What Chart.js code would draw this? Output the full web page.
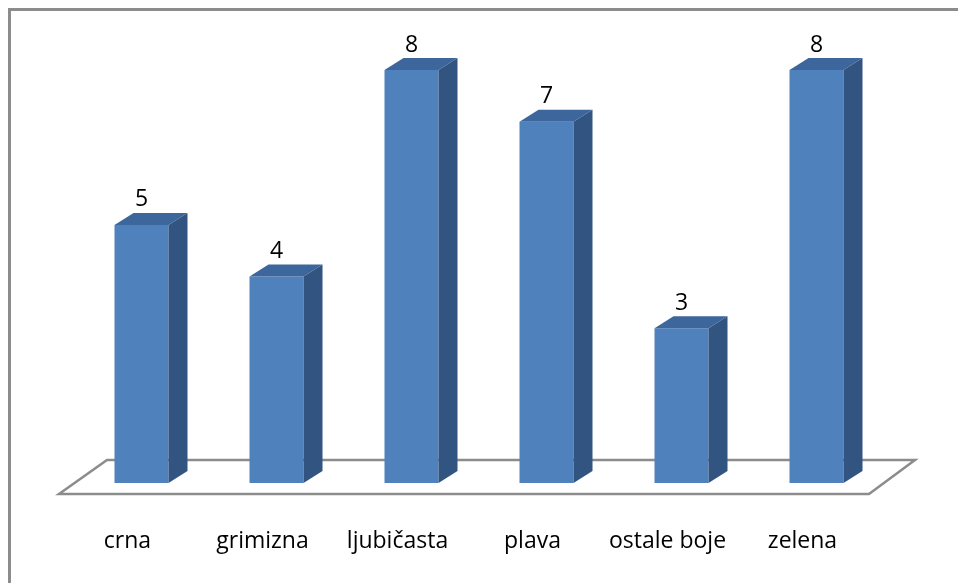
<!DOCTYPE html>
<html>
<head>
<meta charset="utf-8">
<script src="https://cdn.jsdelivr.net/npm/chart.js@4"></script>
<style>
  html, body { margin: 0; padding: 0; background: #fff; overflow: hidden; }
  #wrap { position: relative; width: 958px; height: 583px; }
  #frame {
    position: absolute; left: 8px; top: 8px; width: 980px; height: 600px;
    border-left: 3px solid #8c8c8c; border-top: 3px solid #8c8c8c;
    box-sizing: border-box; pointer-events: none;
  }
</style>
</head>
<body>
<div id="wrap">
  <canvas id="myChart" width="958" height="583"></canvas>
  <div id="frame"></div>
</div>
<script>
var categories = ["crna", "grimizna", "ljubičasta", "plava", "ostale boje", "zelena"];
var values = [5, 4, 8, 7, 3, 8];

var DX = 19, DY = 12; // depth of the 3d boxes

var floorPlugin = {
  id: "floor",
  beforeDatasetsDraw(chart) {
    var ctx = chart.ctx;
    var a = chart.chartArea;
    var backY = a.bottom - 23, frontY = a.bottom + 11;
    ctx.save();
    ctx.beginPath();
    ctx.moveTo(a.left - 15, frontY);
    ctx.lineTo(a.left + 33, backY);
    ctx.lineTo(a.right + 31, backY);
    ctx.lineTo(a.right - 15, frontY);
    ctx.closePath();
    ctx.fillStyle = "#ffffff";
    ctx.fill();
    ctx.strokeStyle = "#8c8c8c";
    ctx.lineWidth = 2.5;
    ctx.stroke();
    ctx.restore();
  }
};

var boxPlugin = {
  id: "box3d",
  afterDatasetsDraw(chart) {
    var ctx = chart.ctx;
    var meta = chart.getDatasetMeta(0);
    ctx.save();
    meta.data.forEach(function (bar, i) {
      var half = bar.width / 2;
      var l = bar.x - half, r = bar.x + half, t = bar.y, b = bar.base;
      // top face
      ctx.beginPath();
      ctx.moveTo(l, t);
      ctx.lineTo(l + DX, t - DY);
      ctx.lineTo(r + DX, t - DY);
      ctx.lineTo(r, t);
      ctx.closePath();
      ctx.fillStyle = "#3d669c";
      ctx.fill();
      // side face
      ctx.beginPath();
      ctx.moveTo(r, t);
      ctx.lineTo(r + DX, t - DY);
      ctx.lineTo(r + DX, b - DY);
      ctx.lineTo(r, b);
      ctx.closePath();
      ctx.fillStyle = "#325480";
      ctx.fill();
      // value label
      ctx.fillStyle = "#000";
      ctx.font = "23px 'Open Sans'";
      ctx.textAlign = "center";
      ctx.textBaseline = "middle";
      ctx.fillText(String(values[i]), bar.x, t - 25);
    });
    ctx.restore();
  }
};

var ctx = document.getElementById("myChart").getContext("2d");
var myChart = new Chart(ctx, {
  type: "bar",
  data: {
    labels: categories,
    datasets: [
      {
        data: values,
        backgroundColor: "#4f81bd",
        borderWidth: 0,
        barPercentage: 0.4,
        categoryPercentage: 1.0,
      },
    ],
  },
  options: {
    responsive: false,
    animation: false,
    layout: { padding: { left: 74, right: 74, top: 70, bottom: 0 } },
    plugins: { legend: { display: false }, tooltip: { enabled: false } },
    scales: {
      x: {
        grid: { display: false },
        border: { display: false },
        afterFit: function (scale) { scale.height = 100; },
        ticks: {
          color: "#000",
          font: { family: "'Open Sans'", size: 23 },
          padding: 37,
          labelOffset: -14,
          maxRotation: 0,
          autoSkip: false,
        },
      },
      y: { display: false, min: 0, max: 8 },
    },
  },
  plugins: [floorPlugin, boxPlugin],
});
</script>
</body>
</html>
